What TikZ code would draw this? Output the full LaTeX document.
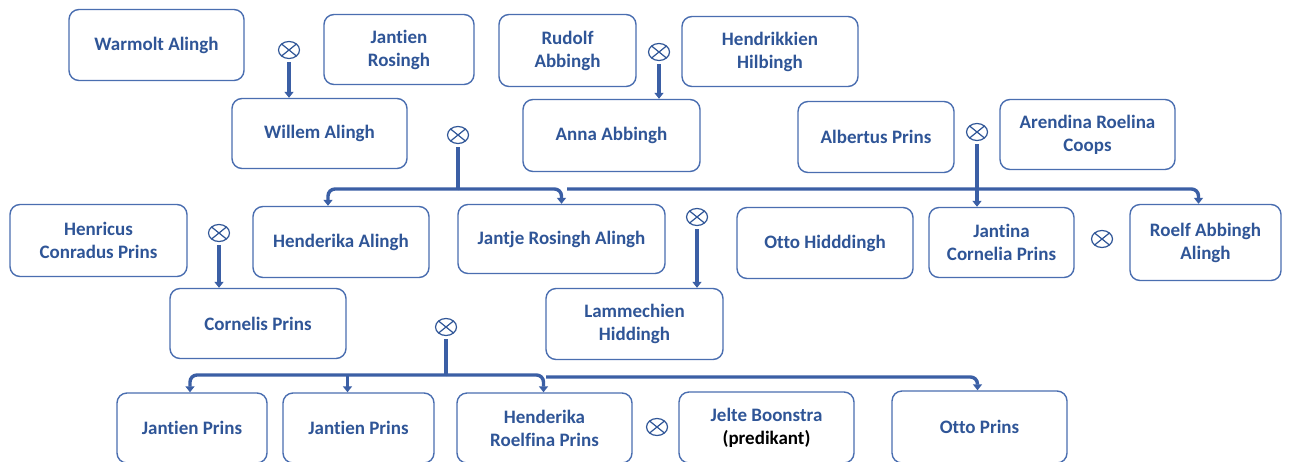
\documentclass[tikz,border=0pt]{standalone}
\usepackage{fontspec}
\setmainfont{Carlito}[Ligatures=CommonOff]
\usetikzlibrary{arrows.meta,shapes.geometric}
\definecolor{textcol}{RGB}{47,85,151}
\definecolor{bordercol}{RGB}{74,110,176}
\definecolor{linecol}{RGB}{59,95,165}
\tikzset{
  person/.style={draw=bordercol, line width=1.4pt, rounded corners=10pt, align=center,
    text=textcol, font=\fontsize{19}{23}\selectfont\bfseries, inner sep=0pt},
  marry/.style={ellipse, draw=textcol, line width=1.2pt, minimum width=21pt, minimum height=17pt,
    inner sep=0pt,
    path picture={\draw[textcol, line width=1.2pt]
      (path picture bounding box.north west) -- (path picture bounding box.south east)
      (path picture bounding box.north east) -- (path picture bounding box.south west);}},
  conn/.style={draw=linecol, line width=3.4pt},
  arr/.style={conn, -{Triangle[width=9pt,length=6pt]}, rounded corners=7pt},
}
\begin{document}
\begin{tikzpicture}[x=1pt,y=-1pt]
\useasboundingbox[fill=white] (0,0) rectangle (1289,461);
% persons
\node[person, minimum width=175, minimum height=71] (warmolt) at (156.5,45) {Warmolt Alingh};
\node[person, minimum width=150, minimum height=70] (jantien) at (399,49.5) {Jantien\\Rosingh};
\node[person, minimum width=175, minimum height=70] (willem) at (319.5,133.5) {Willem Alingh};
\node[person, minimum width=137, minimum height=72] (rudolf) at (567.5,50.5) {Rudolf\\Abbingh};
\node[person, minimum width=176, minimum height=70] (hendrikkien) at (770,51.5) {Hendrikkien\\Hilbingh};
\node[person, minimum width=177, minimum height=72] (anna) at (611.5,135.5) {Anna Abbingh};
\node[person, minimum width=156, minimum height=71] (albertus) at (876,137) {Albertus Prins};
\node[person, minimum width=175, minimum height=70] (arendina) at (1087.5,134.5) {Arendina Roelina\\Coops};
\node[person, minimum width=177, minimum height=72] (henricus) at (98.5,240.5) {Henricus\\Conradus Prins};
\node[person, minimum width=176, minimum height=71] (henderika) at (341,242) {Henderika Alingh};
\node[person, minimum width=176, minimum height=70] (cornelis) at (258,323.5) {Cornelis Prins};
\node[person, minimum width=207, minimum height=69] (jantje) at (561.5,239) {Jantje Rosingh Alingh};
\node[person, minimum width=176, minimum height=71] (ottoh) at (825,243) {Otto Hidddingh};
\node[person, minimum width=177, minimum height=71] (lammechien) at (634.5,324) {Lammechien\\Hiddingh};
\node[person, minimum width=145, minimum height=70] (jantina) at (1001.5,242.5) {Jantina\\Cornelia Prins};
\node[person, minimum width=151, minimum height=76] (roelf) at (1205.5,242.5) {Roelf Abbingh\\Alingh};
\node[person, minimum width=150, minimum height=70] (jp1) at (192,428) {Jantien Prins};
\node[person, minimum width=151, minimum height=70] (jp2) at (358.5,428) {Jantien Prins};
\node[person, minimum width=175, minimum height=70] (hrp) at (544.5,428) {Henderika\\Roelfina Prins};
\node[person, minimum width=175, minimum height=71] (jelte) at (766.5,427.5) {Jelte Boonstra\\\textcolor{black}{(predikant)}};
\node[person, minimum width=175, minimum height=72] (ottop) at (979.5,427) {Otto Prins};
% marriages
\node[marry] (m1) at (289,50) {};
\node[marry] (m2) at (659,52) {};
\node[marry] (m3) at (458,135) {};
\node[marry] (m4) at (977,132) {};
\node[marry] (m5) at (219,233) {};
\node[marry] (m6) at (697,217) {};
\node[marry] (m7) at (1102,239) {};
\node[marry] (m8) at (446,327) {};
\node[marry] (m9) at (657,427) {};
% simple descents
\draw[arr, shorten <=3pt] (m1.south) -- (m1.south |- willem.north);
\draw[arr, shorten <=3pt] (m2.south) -- (m2.south |- anna.north);
\draw[arr, shorten <=3pt] (m4.south) -- (m4.south |- jantina.north);
\draw[arr, shorten <=3pt] (m5.south) -- (m5.south |- cornelis.north);
\draw[arr, shorten <=3pt] (m6.south) -- (m6.south |- lammechien.north);
% Willem x Anna children
\coordinate (b3) at (458,189);
\coordinate (hat) at ([xshift=-13pt]henderika.north);
\coordinate (rt) at ([xshift=-7pt]roelf.north);
\coordinate (r3) at (567,189);
\draw[conn, shorten <=3pt] (m3.south) -- (b3);
\draw[arr] (b3) -| (hat);
\draw[arr] (b3) -| (jantje.north);
\draw[arr] (r3) -| (rt);
% Cornelis x Lammechien children
\coordinate (b8) at (446,375);
\coordinate (j1t) at ([xshift=-2pt]jp1.north);
\coordinate (j2t) at ([xshift=-11pt]jp2.north);
\coordinate (hrt) at ([xshift=-1pt]hrp.north);
\coordinate (ot) at ([xshift=-2pt]ottop.north);
\coordinate (r8) at (546,377);
\draw[conn, shorten <=3pt] (m8.south) -- (b8);
\draw[arr] (b8) -| (j1t);
\draw[arr] (j2t |- b8) -- (j2t);
\draw[arr] (b8) -| (hrt);
\draw[arr] (r8) -| (ot);
\end{tikzpicture}
\end{document}
